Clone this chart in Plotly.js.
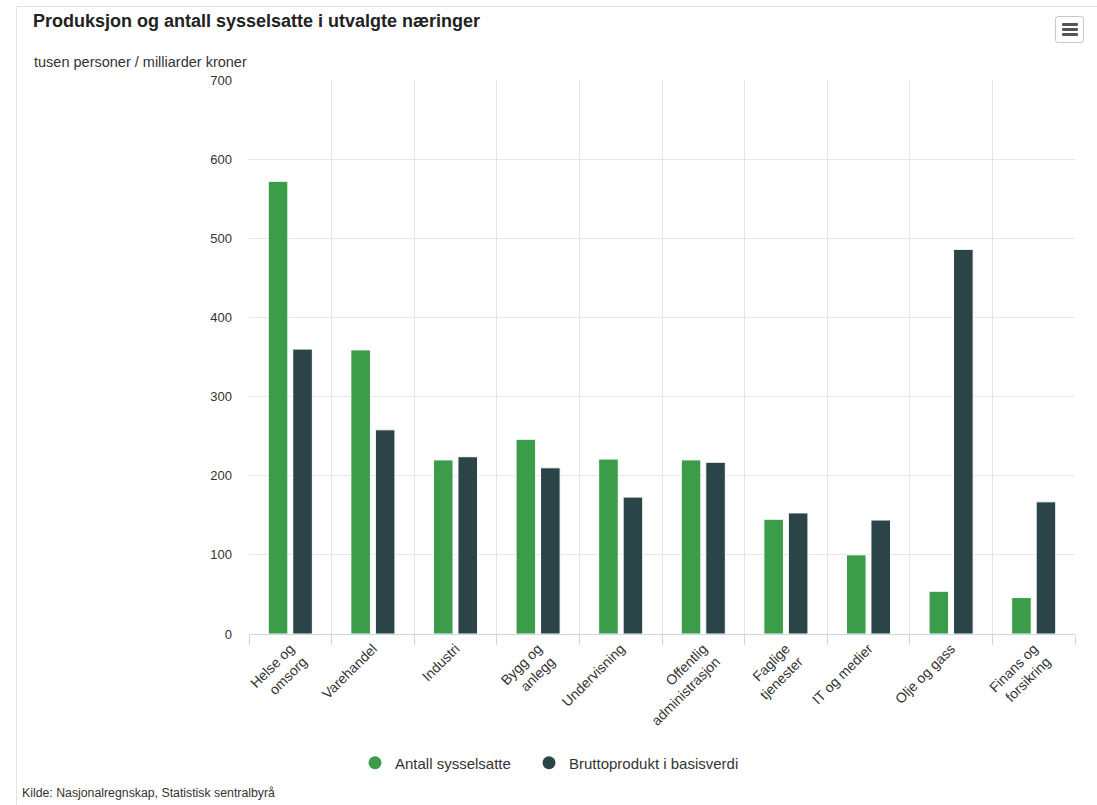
<!DOCTYPE html>
<html>
<head>
<meta charset="utf-8">
<script src="https://cdn.plot.ly/plotly-3.0.1.min.js"></script>
<style>
  html, body { margin: 0; padding: 0; background: #fff; }
  #wrap { position: relative; width: 1097px; height: 805px; overflow: hidden; }
  #chart { position: absolute; left: 0; top: 0; width: 1097px; height: 805px; }
  #frame { position: absolute; left: 16px; top: 6px; width: 1200px; height: 900px;
           border-left: 1px solid #e3e3e3; border-top: 1px solid #e3e3e3; pointer-events: none; }
  #menu { position: absolute; left: 1055px; top: 16px; width: 29px; height: 27px; box-sizing: border-box;
          border: 1px solid #c8c8c8; border-radius: 3px; background: #fff; }
  #menu span { position: absolute; left: 6px; width: 16px; height: 3px; background: #555; border-radius: 1px; }
</style>
</head>
<body>
<div id="wrap">
  <div id="chart"></div>
  <div id="frame"></div>
  <div id="menu"><span style="top:6px"></span><span style="top:11px"></span><span style="top:16px"></span></div>
</div>
<script>
const categories = [
  "Helse og<br>omsorg", "Varehandel", "Industri", "Bygg og<br>anlegg", "Undervisning",
  "Offentlig<br>administrasjon", "Faglige<br>tjenester", "IT og medier", "Olje og gass", "Finans og<br>forsikring"
];
const sysselsatte = [572, 359, 220, 246, 221, 220, 145, 100, 54, 46];
const bruttoprodukt = [360, 258, 224, 210, 173, 217, 153, 144, 486, 167];
const seriesNames = ["Antall sysselsatte", "Bruttoprodukt i basisverdi"];
const yTicks = [0, 100, 200, 300, 400, 500, 600, 700];

const GREEN = "#3b9c4a";
const DARK = "#2b4447";
const FONT = "Arial, 'Liberation Sans', sans-serif";

// plot geometry (px)
const L = 249, R = 22, T = 80, B = 171, W = 1097, H = 805;
const pw = W - L - R, ph = H - T - B;
const px = v => (v - L) / pw;
const py = v => (H - B - v) / ph;

const data = [
  { type: "bar", x: categories, y: sysselsatte, name: seriesNames[0], legendgroup: "a", showlegend: false,
    marker: { color: GREEN, line: { color: "#ffffff", width: 1 } }, hoverinfo: "x+y+name" },
  { type: "bar", x: categories, y: bruttoprodukt, name: seriesNames[1], legendgroup: "b", showlegend: false,
    marker: { color: DARK, line: { color: "#ffffff", width: 1 } }, hoverinfo: "x+y+name" },
  { type: "scatter", mode: "markers", x: [null], y: [null], name: seriesNames[0], legendgroup: "a", legend: "legend",
    marker: { color: GREEN, size: 13, symbol: "circle" }, hoverinfo: "skip" },
  { type: "scatter", mode: "markers", x: [null], y: [null], name: seriesNames[1], legendgroup: "b", legend: "legend2",
    marker: { color: DARK, size: 13, symbol: "circle" }, hoverinfo: "skip" }
];

const legendBase = {
  orientation: "h",
  xref: "container", yref: "container",
  xanchor: "left",
  y: 1 - 763 / H, yanchor: "middle",
  font: { family: FONT, size: 15, color: "#333333" },
  itemwidth: 30,
  bgcolor: "rgba(0,0,0,0)"
};

const layout = {
  width: W, height: H,
  margin: { l: L, r: R, t: T, b: B, pad: 0 },
  paper_bgcolor: "rgba(0,0,0,0)",
  plot_bgcolor: "#ffffff",
  font: { family: FONT, color: "#333333", size: 12 },
  title: {
    text: "<b>Produksjon og antall sysselsatte i utvalgte næringer</b>",
    font: { family: FONT, size: 18, color: "#222222" },
    xref: "container", yref: "container", x: 33 / W, xanchor: "left", y: 1 - 21 / H, yanchor: "middle"
  },
  barmode: "group",
  bargap: 0.407,
  bargroupgap: 0.2,
  xaxis: {
    type: "category",
    tickson: "boundaries",
    automargin: false,
    showgrid: true, gridcolor: "#e6e6e6", gridwidth: 1,
    showline: true, linecolor: "#ccd6eb", linewidth: 1,
    ticks: "outside", ticklen: 10, tickcolor: "#ccd6eb", tickwidth: 1,
    tickangle: -45,
    tickfont: { family: FONT, size: 14, color: "#333333" },
    fixedrange: true
  },
  yaxis: {
    range: [0, 700],
    automargin: false,
    tickvals: yTicks,
    ticktext: yTicks.map(String),
    showgrid: true, gridcolor: "#e6e6e6", gridwidth: 1,
    zeroline: false, showline: false,
    ticks: "", ticklabelstandoff: 16,
    tickfont: { family: FONT, size: 13, color: "#333333" },
    fixedrange: true
  },
  legend: Object.assign({}, legendBase, { x: 355 / W }),
  legend2: Object.assign({}, legendBase, { x: 529 / W }),
  annotations: [
    { text: "tusen personer / milliarder kroner", xref: "paper", yref: "paper",
      x: px(32), y: py(62), xanchor: "left", yanchor: "middle", showarrow: false,
      font: { family: FONT, size: 14.5, color: "#333333" } },
    { text: "Kilde: Nasjonalregnskap, Statistisk sentralbyrå", xref: "paper", yref: "paper",
      x: px(20), y: py(793), xanchor: "left", yanchor: "middle", showarrow: false,
      font: { family: FONT, size: 12.3, color: "#333333" } }
  ],
  showlegend: true
};

Plotly.newPlot("chart", data, layout, { displayModeBar: false, responsive: false });
</script>
</body>
</html>
